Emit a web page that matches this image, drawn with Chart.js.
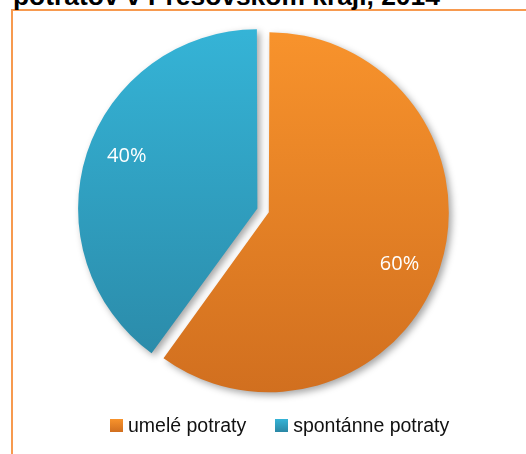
<!DOCTYPE html>
<html>
<head>
<meta charset="utf-8">
<script src="https://cdn.jsdelivr.net/npm/chart.js@4/dist/chart.umd.min.js"></script>
<style>
  html, body { margin: 0; padding: 0; background: #fff; overflow: hidden; }
  #wrap { position: relative; width: 526px; height: 454px; overflow: hidden; }
  #frame { position: absolute; left: 11px; top: 9px; width: 700px; height: 700px;
           border-left: 2px solid #F79A4F; border-top: 2px solid #F79A4F; box-sizing: border-box; }
  #title { position: absolute; left: 13px; top: -19px; font: bold 26.4px "Liberation Sans", Arial, sans-serif;
           line-height: 30px; color: #000; white-space: nowrap; }
  canvas { position: absolute; left: 0; top: 0; }
  #legend { position: absolute; left: 110px; top: 415px; display: flex; align-items: center;
            font: 19.5px "Liberation Sans", Arial, sans-serif; line-height: 20px; color: #111; white-space: nowrap; }
  .item { display: flex; align-items: center; }
  .item + .item { margin-left: 29px; }
  .box { width: 13px; height: 13px; margin-right: 5px; }
</style>
</head>
<body>
<div id="wrap">
  <div id="frame"></div>
  <div id="title"></div>
  <canvas id="c" width="526" height="454"></canvas>
  <div id="legend"></div>
</div>
<script>
const chartTitle = "potratov v Prešovskom kraji, 2014";
const categories = ["umelé potraty", "spontánne potraty"];
const values = [60, 40];
const valueLabels = ["60%", "40%"];
const topColors = ["#F8932C", "#35B4D7"];
const bottomColors = ["#D16F1F", "#2A87A5"];
const sliceOffsets = [16, 32];

document.getElementById('title').textContent = chartTitle;

const legend = document.getElementById('legend');
categories.forEach((name, i) => {
  const item = document.createElement('div');
  item.className = 'item';
  const box = document.createElement('span');
  box.className = 'box';
  box.style.background = `linear-gradient(${topColors[i]}, ${bottomColors[i]})`;
  const txt = document.createElement('span');
  txt.textContent = name;
  item.appendChild(box);
  item.appendChild(txt);
  legend.appendChild(item);
});

function grad(context) {
  const chart = context.chart;
  const area = chart.chartArea;
  if (!area) return topColors[context.dataIndex];
  const g = chart.ctx.createLinearGradient(0, area.top + 10, 0, area.bottom - 10);
  g.addColorStop(0, topColors[context.dataIndex]);
  g.addColorStop(1, bottomColors[context.dataIndex]);
  return g;
}

const shadowPlugin = {
  id: 'shadow',
  beforeDatasetsDraw(chart) {
    const ctx = chart.ctx;
    ctx.save();
    ctx.shadowColor = 'rgba(0,0,0,0.35)';
    ctx.shadowBlur = 7;
    ctx.shadowOffsetX = 3;
    ctx.shadowOffsetY = 3;
  },
  afterDatasetsDraw(chart) {
    chart.ctx.restore();
  }
};

const labelPlugin = {
  id: 'sliceLabels',
  afterDatasetsDraw(chart) {
    const ctx = chart.ctx;
    const meta = chart.getDatasetMeta(0);
    ctx.save();
    ctx.fillStyle = '#ffffff';
    ctx.font = '20px "Open Sans", sans-serif';
    ctx.textAlign = 'center';
    ctx.textBaseline = 'middle';
    meta.data.forEach((arc, i) => {
      const mid = (arc.startAngle + arc.endAngle) / 2 + 0.065;
      const off = sliceOffsets[i] / 4;
      const r = arc.outerRadius * 0.8 + off;
      ctx.fillText(valueLabels[i], arc.x + Math.cos(mid) * r, arc.y + Math.sin(mid) * r);
    });
    ctx.restore();
  }
};

new Chart(document.getElementById('c'), {
  type: 'pie',
  data: {
    labels: categories,
    datasets: [{
      data: values,
      backgroundColor: grad,
      borderWidth: 0,
      offset: sliceOffsets,
      hoverOffset: 0
    }]
  },
  options: {
    responsive: false,
    animation: false,
    events: [],
    layout: { padding: { left: 73, right: 69, top: 19, bottom: 51 } },
    plugins: {
      legend: { display: false },
      tooltip: { enabled: false },
      title: { display: false }
    }
  },
  plugins: [shadowPlugin, labelPlugin]
});
</script>
</body>
</html>
